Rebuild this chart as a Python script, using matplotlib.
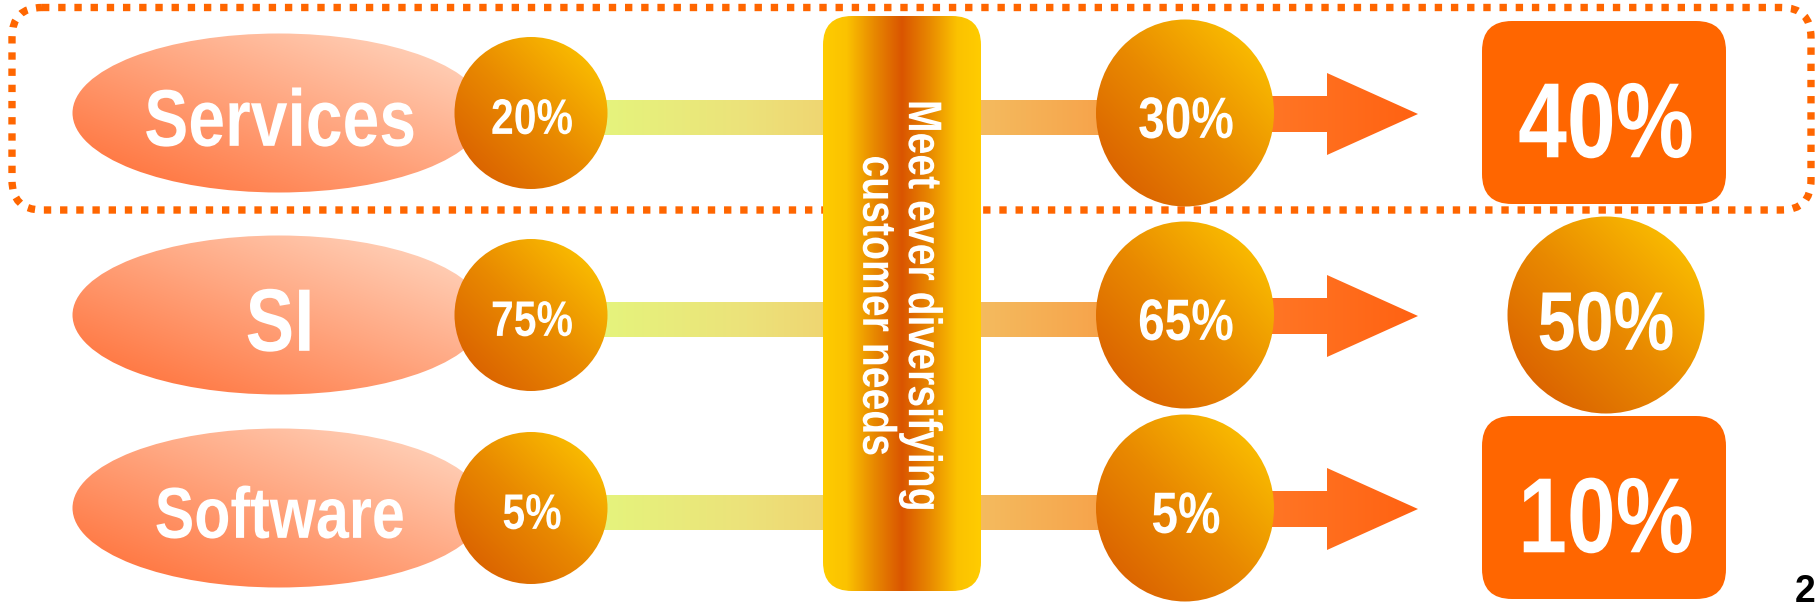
import numpy as np
import matplotlib
matplotlib.use("Agg")
import matplotlib.pyplot as plt
from matplotlib.colors import LinearSegmentedColormap
from matplotlib.patches import Ellipse, FancyBboxPatch, Polygon, Rectangle
from matplotlib.patheffects import AbstractPathEffect
from matplotlib.transforms import Affine2D

# data
categories = ["Services", "SI", "Software"]
current_share = [20, 75, 5]
midterm_share = [30, 65, 5]
target_share = [40, 50, 10]
target_style = ["box", "circle", "box"]
center_message = "Meet ever diversifying\ncustomer needs"
page_number = "2"

# style
label_size = [58, 64, 52]
row_y = [113, 315, 508]

plt.rcParams["font.family"] = ["Liberation Sans", "DejaVu Sans"]

ORANGE = "#FF6600"
GOLD = ["#D65600", "#E98A00", "#FFCC00"]
PEACH = ["#FF6A30", "#FFA37C", "#FFDCC8"]
BAR = ["#E3F97D", "#ECE27A", "#F3C466", "#F7A048"]
PILLAR = [(0, "#DA5500"), (0.35, "#E88800"), (0.7, "#FBC200"), (1, "#FFCC00")]
ARROW = ["#FF7B2A", "#FF6212"]


class Squeeze(AbstractPathEffect):
    """Condense glyphs around an anchor point (the reference uses a narrow face)."""

    def __init__(self, ax, anchor, sx=1.0, sy=1.0):
        super().__init__()
        self.ax, self.anchor, self.sx, self.sy = ax, anchor, sx, sy

    def draw_path(self, renderer, gc, tpath, affine, rgbFace=None):
        cx, cy = self.ax.transData.transform(self.anchor)
        sq = Affine2D().translate(-cx, -cy).scale(self.sx, self.sy).translate(cx, cy)
        renderer.draw_path(gc, tpath, affine + sq, rgbFace)


def fill_gradient(ax, patch, bbox, colors, mode, z):
    x0, y0, x1, y1 = bbox
    xs = np.linspace(x0, x1, 256)
    ys = np.linspace(y0, y1, 256)
    X, Y = np.meshgrid(xs, ys)
    u = (X - x0) / (x1 - x0)
    v = (y1 - Y) / (y1 - y0)
    if mode == "diag":
        t = (u + v) / 2
    elif mode == "h":
        t = u
    else:
        t = np.abs(u - 0.5) * 2
    cmap = LinearSegmentedColormap.from_list("g", colors)
    patch.set_facecolor("none")
    patch.set_edgecolor("none")
    patch.set_zorder(z)
    ax.add_patch(patch)
    im = ax.imshow(t, cmap=cmap, vmin=0, vmax=1, extent=(x0, x1, y1, y0),
                   origin="upper", interpolation="bilinear", zorder=z, aspect="auto")
    im.set_clip_path(patch)


def label(ax, x, yc, s, size, sx=0.8, z=10):
    # yc = vertical centre of the capitals
    base = yc + 0.716 * size * 100 / 72 / 2
    ax.text(x, base, s, fontsize=size, fontweight="bold", color="white",
            ha="center", va="baseline", zorder=z,
            path_effects=[Squeeze(ax, (x, base), sx=sx)])


fig = plt.figure(figsize=(18.17, 6.08), dpi=100)
ax = fig.add_axes([0, 0, 1, 1])

# dotted frame around the Services row
frame = FancyBboxPatch((12, 7.5), 1799, 202.5, boxstyle="round,pad=0,rounding_size=30",
                       fill=False, ec=ORANGE, lw=5.3, linestyle=(0, (1.0, 1.2)), zorder=1)
ax.add_patch(frame)

for i, cat in enumerate(categories):
    y = row_y[i]

    # connecting bar behind everything
    bar = Rectangle((560, y + 4 - 17), 560, 35)
    fill_gradient(ax, bar, (560, y - 13, 1120, y + 22), BAR, "h", 2)

    # category ellipse
    ell = Ellipse((279, y), 413, 159)
    fill_gradient(ax, ell, (72, y - 80, 486, y + 80), PEACH, "diag", 3)
    label(ax, 280, y + 4, cat, label_size[i], sx=0.82)

    # current share circle
    c1 = Ellipse((531, y), 153, 152)
    fill_gradient(ax, c1, (454, y - 76, 608, y + 76), GOLD, "diag", 4)
    label(ax, 532, y + 3, f"{current_share[i]}%", 36, sx=0.82)

    # arrow
    arr = Polygon([(1230, y + 1 - 18), (1327, y + 1 - 18), (1327, y + 1 - 41),
                   (1418, y + 1), (1327, y + 1 + 41), (1327, y + 1 + 18), (1230, y + 1 + 18)])
    fill_gradient(ax, arr, (1230, y - 41, 1418, y + 43), ARROW, "h", 3)

    # mid-term circle
    c2 = Ellipse((1185, y), 178, 187)
    fill_gradient(ax, c2, (1096, y - 94, 1274, y + 94), GOLD, "diag", 4)
    label(ax, 1186, y + 4, f"{midterm_share[i]}%", 42, sx=0.82)

    # target
    if target_style[i] == "box":
        box = FancyBboxPatch((1482, y - 92), 244, 183, boxstyle="round,pad=0,rounding_size=30",
                             fc=ORANGE, ec="none", zorder=4)
        ax.add_patch(box)
        label(ax, 1606, y + 6, f"{target_share[i]}%", 77, sx=0.82)
    else:
        c3 = Ellipse((1606, y), 197, 197)
        fill_gradient(ax, c3, (1507, y - 99, 1705, y + 99), GOLD, "diag", 4)
        label(ax, 1606, y + 5, f"{target_share[i]}%", 60, sx=0.82)

# central pillar
pillar = FancyBboxPatch((823, 16), 158, 575, boxstyle="round,pad=0,rounding_size=29")
fill_gradient(ax, pillar, (823, 16, 981, 591), PILLAR, "mid", 6)
ax.text(898, 306, center_message, rotation=-90, ha="center", va="center",
        multialignment="center", linespacing=1.05, fontsize=34, fontweight="bold",
        color="white", zorder=10, path_effects=[Squeeze(ax, (898, 306), sy=0.83)])

ax.text(1816, 602, page_number, fontsize=27, fontweight="bold", color="black",
        ha="right", va="baseline", zorder=10)

ax.set_xlim(0, 1817)
ax.set_ylim(608, 0)
ax.axis("off")
fig.savefig("out.png", dpi=100, facecolor="white")
